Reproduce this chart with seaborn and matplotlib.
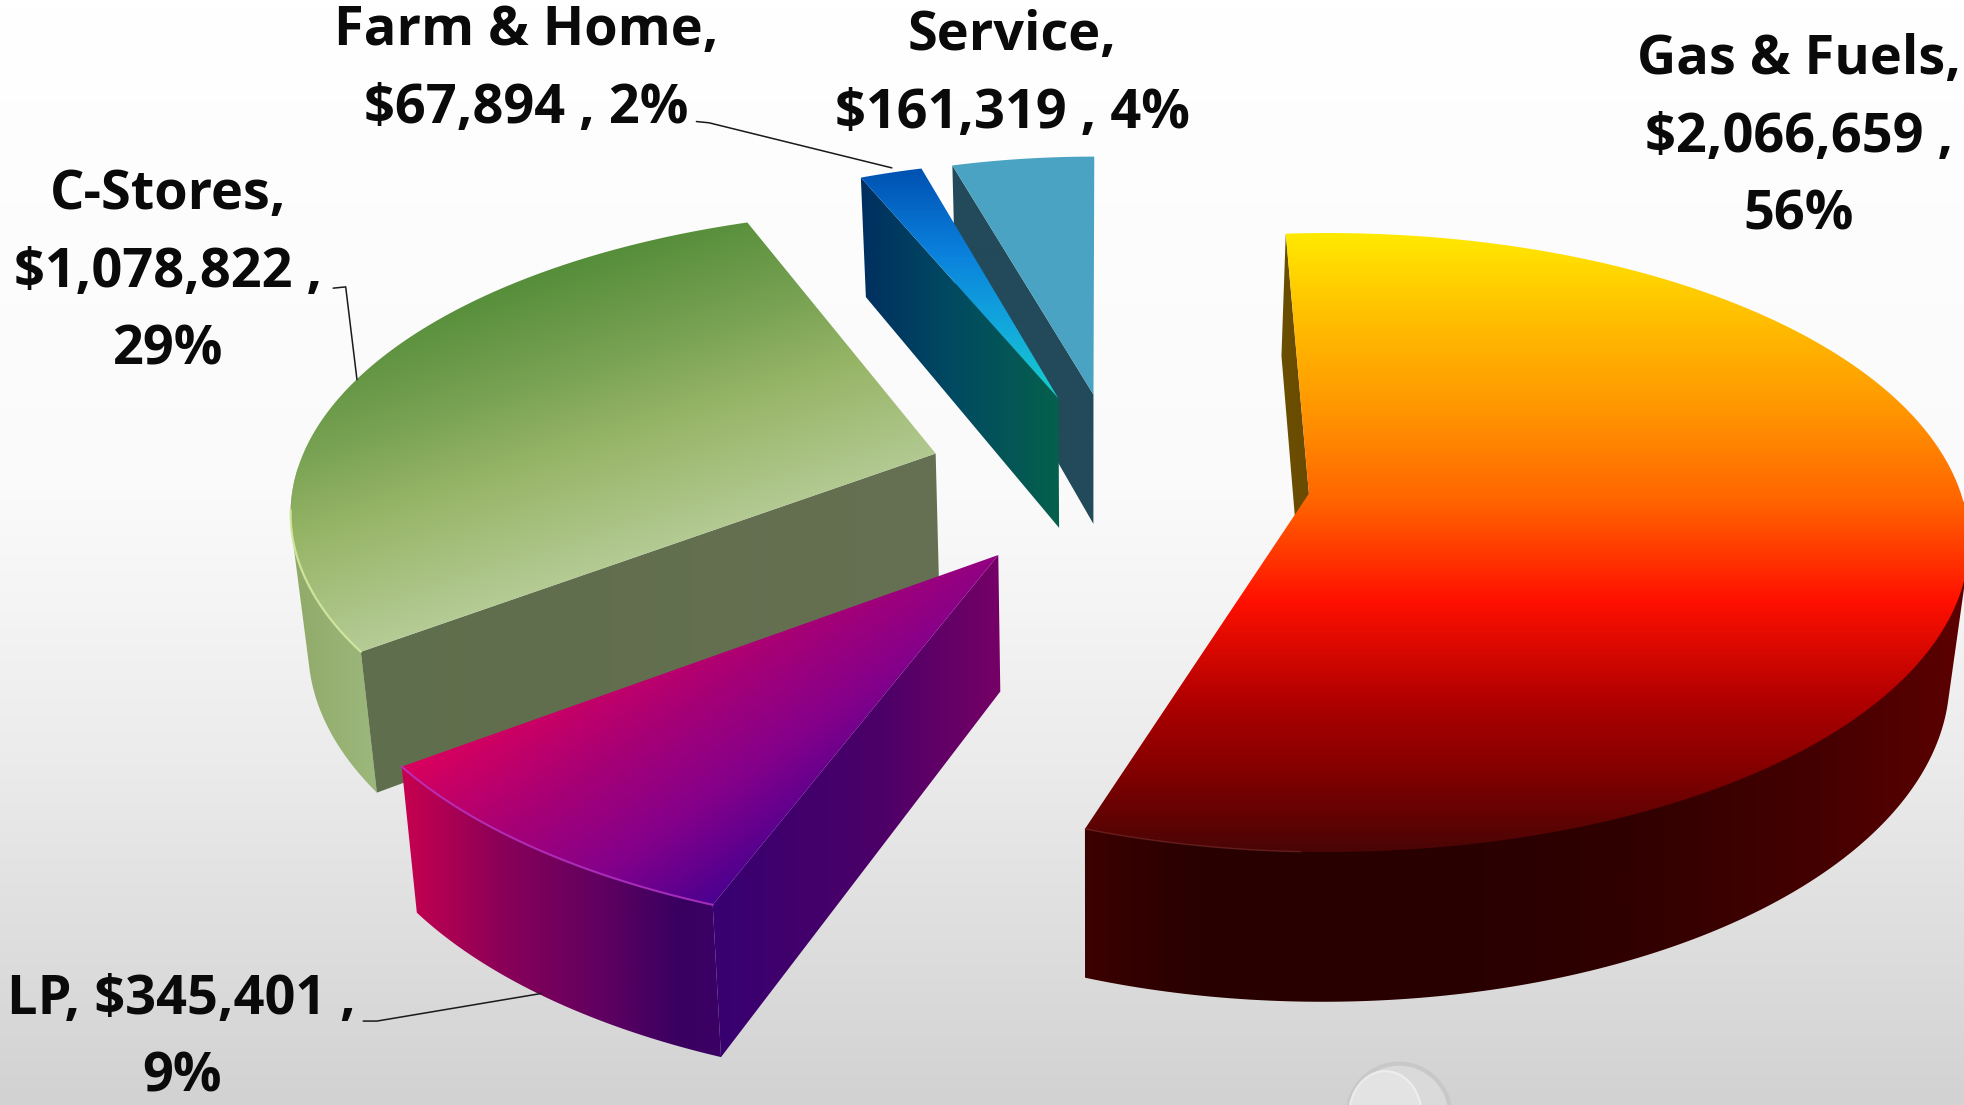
import numpy as np
import pandas as pd
import seaborn as sns
import matplotlib
matplotlib.use("Agg")
import matplotlib.pyplot as plt
from matplotlib.patches import Polygon, Ellipse

# Revenue by department
segments = ["Gas & Fuels", "LP", "C-Stores", "Farm & Home", "Service"]
revenue = [2066659, 345401, 1078822, 67894, 161319]
percent_labels = [56, 9, 29, 2, 4]

# Line breaks between name / amount / percent in each callout
label_breaks = [("\n", "\n"), (" ", "\n"), ("\n", "\n"), ("\n", " "), ("\n", " ")]
label_centres = [(1436, 110), (145, 829), (134, 218), (420, 56), (808, 60)]

# Leader lines from callout to slice
leaders = {
    "LP": ([290, 301, 432], [815, 815, 793]),
    "C-Stores": ([266, 276, 285], [230, 229, 303]),
    "Farm & Home": ([556, 566, 712], [97, 98, 134]),
}

# Geometry of each exploded slice on a 1568 x 882 canvas:
# apex, rim-ellipse centre, rim radii, angular tweak and angular spread
slice_geometry = pd.DataFrame({
    "segment": segments,
    "apex_x": [1045, 797, 747, 845, 873],
    "apex_y": [394, 443, 362, 318, 315],
    "rim_x": [1060, 797, 747, 845, 874],
    "rim_y": [433, 491, 410, 350, 345],
    "rx": [512, 541, 515, 455, 452],
    "ry": [247, 255, 243, 222, 220],
    "rotate": [-0.75, 6.6, 7.4, 1.8, 0.5],
    "spread": [1.03, 1.10, 0.958, 0.97, 0.93],
}).set_index("segment")

VANISH_X = 870
LINE_STEP = 62


def extrude(x, y):
    """Project a point on the top face onto the bottom face of the pie."""
    x, y = np.asarray(x, float), np.asarray(y, float)
    return x + (VANISH_X - x) * 0.022, y + 89 + 0.045 * y


def convex_hull(x, y):
    """Monotone-chain hull, so the rim wall keeps its straight silhouette edges."""
    pts = sorted(set(zip(np.round(x, 3), np.round(y, 3))))

    def half(points):
        chain = []
        for p in points:
            while len(chain) >= 2:
                (x1, y1), (x2, y2) = chain[-2], chain[-1]
                if (x2 - x1) * (p[1] - y1) - (y2 - y1) * (p[0] - x1) <= 0:
                    chain.pop()
                else:
                    break
            chain.append(p)
        return chain[:-1]

    ring = np.array(half(pts) + half(pts[::-1]))
    return ring[:, 0], ring[:, 1]


sns.set_theme(style="white")
plt.rcParams["font.family"] = ["Open Sans", "DejaVu Sans"]

W, H = 1568, 882
fig = plt.figure(figsize=(19.64, 11.05), dpi=100)
ax = fig.add_axes([0, 0, 1, 1])

grid_x, grid_y = np.meshgrid(np.linspace(0, W, 982), np.linspace(0, H, 553))


def shade(field, stops, colours, clip=None, zorder=1):
    """Paint a colour ramp over the canvas, clipped to a polygon."""
    cmap = sns.blend_palette(colours, as_cmap=True)
    t = np.interp(field, stops, np.linspace(0, 1, len(stops)))
    img = ax.imshow(cmap(t), extent=(0, W, H, 0), aspect="auto",
                    interpolation="bilinear", zorder=zorder)
    if clip is not None:
        patch = Polygon(np.column_stack(clip), closed=True, transform=ax.transData,
                        facecolor="none", edgecolor="none")
        ax.add_patch(patch)
        img.set_clip_path(patch)
    return img


# Backdrop: white at the top fading to light grey
shade(grid_y, [0, 400, 600, 750, 882],
      ["#ffffff", "#fafafa", "#ececec", "#dedede", "#d2d2d2"], zorder=0)

# Small glass bubble at the bottom edge
ax.add_patch(Ellipse((1117, 890), 82, 82, fc="#dadada", ec="#c8c8c8", lw=3, zorder=0.5))
ax.add_patch(Ellipse((1106, 890), 58, 70, fc="#e6e6e6", ec="#f2f2f2", lw=1.5,
                     alpha=0.8, zorder=0.6))

# Cumulative sweep of each slice, clockwise from twelve o'clock
sweep = 360 * np.array(revenue) / np.sum(revenue)
ends = np.cumsum(sweep)
starts = ends - sweep


def rim_arc(name):
    g = slice_geometry.loc[name]
    i = segments.index(name)
    mid = (starts[i] + ends[i]) / 2
    a0 = mid + g.rotate + (starts[i] - mid) * g.spread
    a1 = mid + g.rotate + (ends[i] - mid) * g.spread
    phi = np.radians(np.linspace(a0, a1, 240))
    return g.rim_x + g.rx * np.sin(phi), g.rim_y - g.ry * np.cos(phi)


def draw_slice(name, top, wall, side, z, side_span=(0.0, 1.0), highlight=None):
    g = slice_geometry.loc[name]
    ax_, ay_ = g.apex_x, g.apex_y
    rx_, ry_ = rim_arc(name)
    bx, by = extrude(rx_, ry_)
    abx, aby = extrude(ax_, ay_)
    # Outer rim wall
    if side is not None:
        n = len(rx_)
        lo, hi = int(side_span[0] * n), int(side_span[1] * n)
        hull = convex_hull(np.r_[rx_[lo:hi], bx[lo:hi]], np.r_[ry_[lo:hi], by[lo:hi]])
        shade(grid_x, side[0], side[1], hull, z)
    # Radial wall along the leading edge of the slice
    if wall is not None:
        shade(grid_x, wall[0], wall[1],
              (np.array([ax_, rx_[0], bx[0], abx]),
               np.array([ay_, ry_[0], by[0], aby])), z + 0.1)
    # Top face
    shade(top[0], top[1], top[2], (np.r_[ax_, rx_], np.r_[ay_, ry_]), z + 0.2)
    # Rim highlight
    if highlight is not None:
        colour, lw, alpha, span = highlight
        n = len(rx_)
        lo, hi = int(span[0] * n), int(span[1] * n)
        ax.plot(rx_[lo:hi], ry_[lo:hi], color=colour, lw=lw, alpha=alpha,
                zorder=z + 0.3, solid_capstyle="round")


# Slices are painted back to front
draw_slice("Service",
           (grid_y, [100, 900], ["#4aa4c3", "#4aa3c0"]),
           ([700, 900], ["#234a5a", "#234a5a"]), None, 2)
draw_slice("Farm & Home",
           (grid_y, [135, 200, 260, 318], ["#0052b2", "#0a80dc", "#12a8dc", "#18d0cc"]),
           ([690, 760, 845], ["#00305f", "#014a62", "#05604c"]), None, 3)
draw_slice("Gas & Fuels",
           (grid_y, [186, 250, 330, 400, 480, 560, 620, 680],
            ["#ffe900", "#ffc000", "#ff9400", "#ff6400", "#ff1000", "#b00000", "#800000", "#4a0505"]),
           ([1020, 1050], ["#6a5000", "#6a4a00"]),
           ([865, 950, 1150, 1300, 1450, 1568],
            ["#3c0000", "#2a0000", "#280000", "#300000", "#440000", "#5c0000"]),
           4, side_span=(0.42, 1.0), highlight=("#a04848", 1.0, 0.4, (0.9, 1.0)))
draw_slice("C-Stores",
           (grid_x * 0.3 + grid_y * 0.95, [320, 420, 480, 600],
            ["#4f8a35", "#7aa354", "#97b567", "#bbd09f"]),
           ([288, 750], ["#5f6e4c", "#667052"]),
           ([230, 300], ["#8fa968", "#9db87c"]),
           5, side_span=(0.0, 0.36), highlight=("#d6e8a0", 1.6, 0.9, (0.0, 0.28)))
draw_slice("LP",
           (grid_x * 0.55 + grid_y * 0.8, [670, 750, 820, 890],
            ["#d8005e", "#a80075", "#85008a", "#4c0090"]),
           ([576, 700, 797], ["#380070", "#4b0068", "#750066"]),
           ([320, 400, 480, 540, 600], ["#c8004f", "#8a0058", "#600060", "#3a0060", "#3c0068"]),
           6, highlight=("#b838c8", 1.5, 0.8, (0.0, 1.0)))

# Callouts, one text per line so the line pitch is exact
for name, value, pct, brk, (cx, cy) in zip(segments, revenue, percent_labels,
                                           label_breaks, label_centres):
    lines = f"{name},{brk[0]}${value:,} ,{brk[1]}{pct}%".split("\n")
    for i, line in enumerate(lines):
        ax.text(cx, cy + (i - (len(lines) - 1) / 2) * LINE_STEP, line, ha="center",
                va="center", fontsize=39, fontweight="bold", color="#0a0a0a", zorder=10)

for name, (lx, ly) in leaders.items():
    ax.plot(lx, ly, color="#1a1a1a", lw=1.1, zorder=9)

ax.set_xlim(0, W)
ax.set_ylim(H, 0)
ax.axis("off")
fig.savefig("out.png", dpi=100)
